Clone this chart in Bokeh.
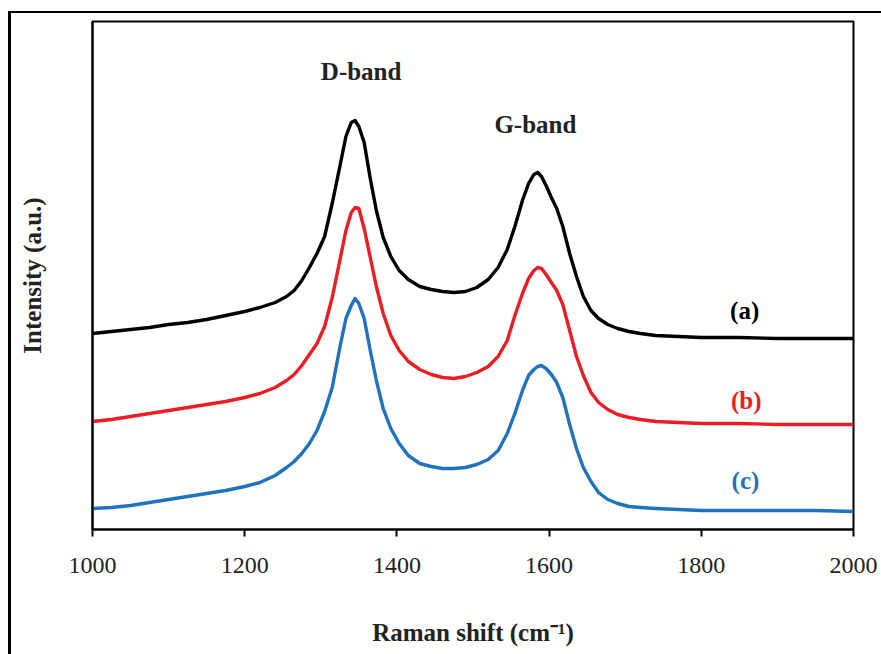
from bokeh.plotting import figure
from bokeh.models import Range1d, FixedTicker
from bokeh.core.properties import value
from bokeh.embed import file_html
from bokeh.resources import INLINE

# Raman shift (cm-1)
shift = [1000, 1025, 1050, 1075, 1100, 1125, 1150, 1175, 1200,
         1220, 1240, 1255, 1265, 1275, 1285, 1295, 1305, 1315, 1325,
         1333, 1340, 1345, 1350, 1357, 1365, 1373, 1382, 1392, 1403,
         1415, 1430, 1445, 1460, 1475, 1490, 1505, 1520, 1533, 1545,
         1555, 1565, 1573, 1580, 1585, 1590, 1596, 1603, 1610, 1618,
         1627, 1636, 1645, 1655, 1665, 1677, 1690, 1705, 1720, 1740,
         1770, 1800, 1850, 1900, 1950, 2000]

# Intensity (a.u.), stacked spectra
int_a = [196, 198, 200, 202, 205, 207, 210, 214, 218,
         222, 227, 233, 239, 249, 262, 276, 293, 326, 363,
         393, 407, 409, 403, 387, 351, 319, 292, 273, 259,
         250, 243, 240, 238, 237, 238, 242, 250, 262, 280,
         303, 329, 346, 355, 357, 353, 344, 332, 321, 303,
         276, 253, 233, 219, 211, 205, 201, 198, 196, 194,
         193, 192, 192, 191, 191, 191]
int_b = [108, 110, 113, 116, 119, 122, 125, 128, 132,
         136, 142, 149, 155, 164, 175, 186, 203, 232, 269,
         299, 317, 322, 321, 301, 272, 243, 216, 194, 179,
         168, 160, 155, 152, 151, 153, 157, 163, 173, 189,
         214, 236, 251, 259, 262, 261, 255, 247, 239, 225,
         199, 173, 154, 137, 127, 120, 115, 112, 110, 108,
         107, 106, 106, 105, 105, 105]
int_c = [21, 22, 24, 27, 30, 33, 36, 39, 43,
         47, 54, 62, 68, 76, 86, 99, 118, 142, 182,
         211, 224, 231, 226, 211, 179, 149, 121, 101, 86,
         74, 66, 63, 61, 61, 62, 65, 70, 79, 96,
         116, 139, 154, 160, 163, 164, 161, 155, 147, 132,
         105, 81, 62, 48, 37, 30, 26, 23, 22, 21,
         20, 19, 19, 19, 19, 18]

x_ticks = [1000, 1200, 1400, 1600, 1800, 2000]

band_labels = ["D-band", "G-band"]
band_x = [1353, 1582]
band_y = [458, 405]

series_labels = ["(a)", "(b)", "(c)"]
series_colors = ["#000000", "#ED1C24", "#1F72BE"]
label_x = [1857, 1859, 1858]
label_y = [219, 129, 49]

FONT = "Liberation Serif"

p = figure(width=881, height=654, output_backend="svg", toolbar_location=None,
           x_range=Range1d(1000, 2000), y_range=Range1d(0, 508),
           min_border_left=92, min_border_right=28, min_border_top=21,
           min_border_bottom=125)
p.grid.visible = False
p.outline_line_color = "black"
p.outline_line_width = 2
p.background_fill_color = "white"
p.border_fill_alpha = 0
p.styles = {
    "background": ("linear-gradient(#000,#000) 8px 11px / 3px 100% no-repeat, "
                   "linear-gradient(#000,#000) 8px 11px / 100% 2px no-repeat, #fff"),
}

xa = p.xaxis[0]
xa.ticker = FixedTicker(ticks=x_ticks)
xa.axis_line_width = 2
xa.major_tick_line_width = 2
xa.major_tick_out = 7
xa.major_tick_in = 0
xa.minor_tick_out = 0
xa.minor_tick_in = 0
xa.major_label_text_font = FONT
xa.major_label_text_font_size = "24px"
xa.major_label_text_color = "#222222"
xa.major_label_standoff = 21
xa.axis_label = "Raman shift (cm\u207b\u00b9)"
xa.axis_label_text_font = FONT
xa.axis_label_text_font_style = "bold"
xa.axis_label_text_font_size = "25px"
xa.axis_label_text_color = "#222222"
xa.axis_label_standoff = 43

ya = p.yaxis[0]
ya.ticker = FixedTicker(ticks=[])
ya.axis_line_width = 2
ya.major_tick_out = 0
ya.major_tick_in = 0
ya.minor_tick_out = 0
ya.minor_tick_in = 0
ya.axis_label = "Intensity (a.u.)"
ya.axis_label_text_font = FONT
ya.axis_label_text_font_style = "bold"
ya.axis_label_text_font_size = "25px"
ya.axis_label_text_color = "#222222"
ya.axis_label_standoff = 47

for ys, c in zip([int_a, int_b, int_c], series_colors):
    p.line(shift, ys, line_color=c, line_width=3.4, line_join="round")

p.text(x=band_x, y=band_y, text=band_labels, text_font=value(FONT),
       text_font_style="bold", text_font_size="25px", text_color="#222222",
       text_align="center", text_baseline="middle")
p.text(x=label_x, y=label_y, text=series_labels, text_font=value(FONT),
       text_font_style="bold", text_font_size="25px", text_color=series_colors,
       text_align="center", text_baseline="middle")

open("out.html", "w").write(file_html(p, INLINE))
